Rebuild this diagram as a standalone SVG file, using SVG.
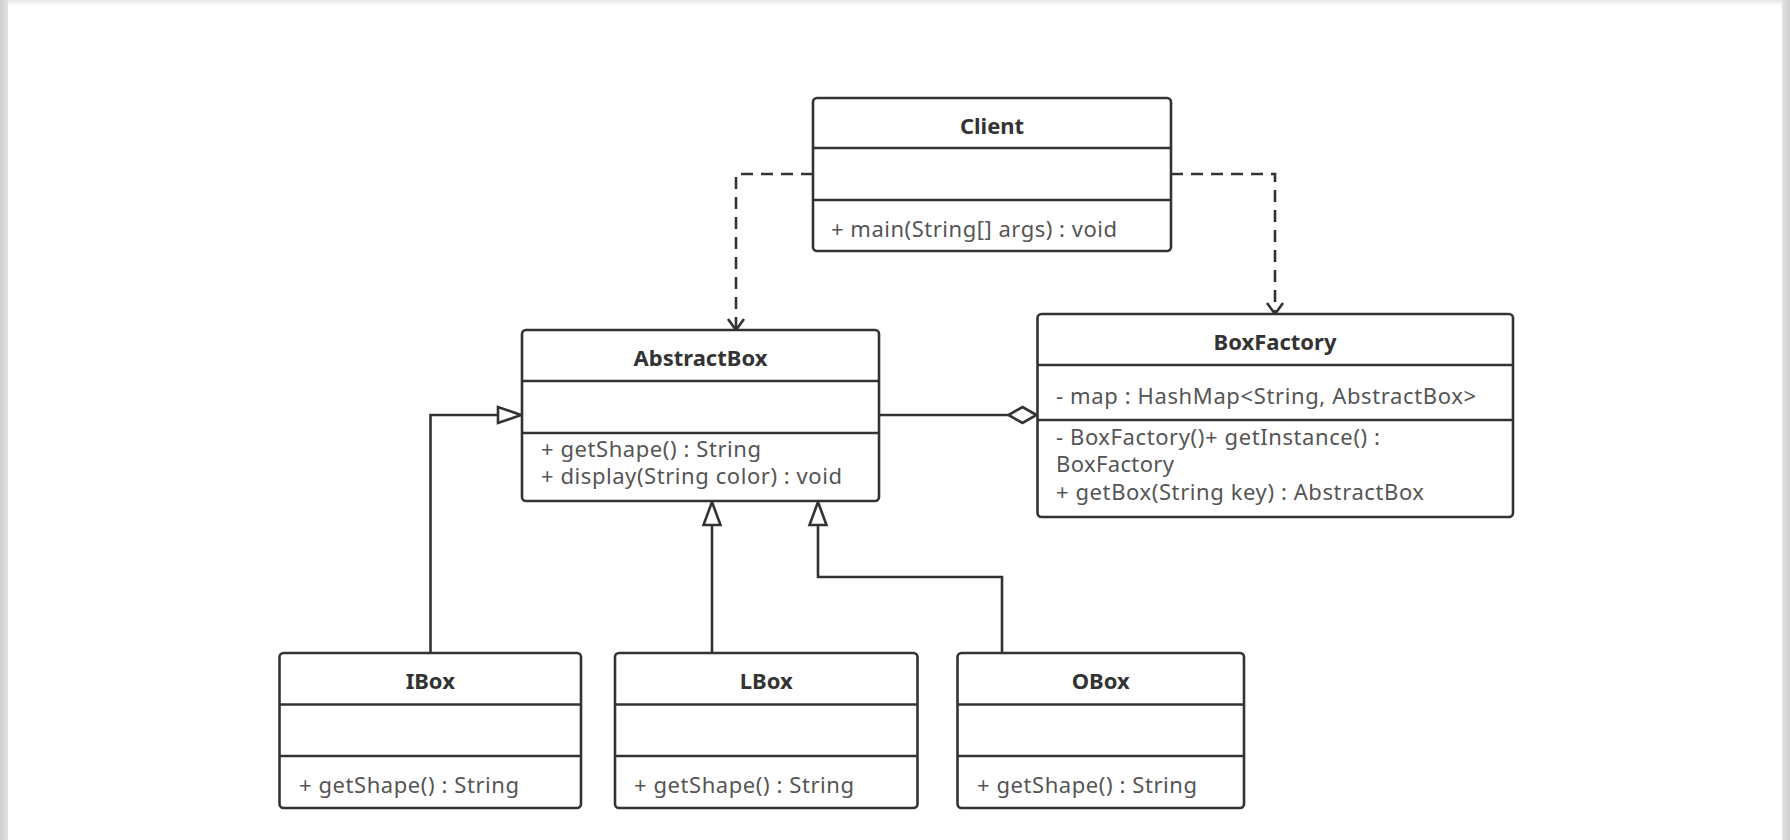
<svg xmlns="http://www.w3.org/2000/svg" width="1790" height="840" viewBox="0 0 1790 840">
<defs>
<linearGradient id="lbar" x1="0" y1="0" x2="1" y2="0"><stop offset="0" stop-color="#cfcfcf"/><stop offset="1" stop-color="#e2e2e2"/></linearGradient>
<linearGradient id="rbar" x1="1" y1="0" x2="0" y2="0"><stop offset="0" stop-color="#cfcfcf"/><stop offset="1" stop-color="#e2e2e2"/></linearGradient>
<linearGradient id="tbar" x1="0" y1="0" x2="0" y2="1"><stop offset="0" stop-color="#e6e6e6"/><stop offset="1" stop-color="#ffffff"/></linearGradient>
</defs>
<style>
.box{fill:#ffffff;stroke:#333333;stroke-width:2.6}
.sep{stroke:#333333;stroke-width:2.6}
.title{font-family:"Noto Sans","Open Sans","Liberation Sans",sans-serif;font-size:22px;font-weight:bold;fill:#333333;text-anchor:middle}
.mem{font-family:"Noto Sans","Open Sans","Liberation Sans",sans-serif;font-size:22px;fill:#555555}
.ln{fill:none;stroke:#333333;stroke-width:2.6}
.dash{fill:none;stroke:#333333;stroke-width:2.6;stroke-dasharray:12 8}
.tri{fill:#ffffff;stroke:#333333;stroke-width:2.6;stroke-linejoin:miter}
</style>
<rect x="0" y="0" width="1790" height="840" fill="#ffffff"/>
<rect x="0" y="0" width="1790" height="6" fill="url(#tbar)"/>
<rect x="0" y="0" width="8" height="840" fill="url(#lbar)"/>
<rect x="1782" y="0" width="8" height="840" fill="url(#rbar)"/>

<g id="connectors">
  <path class="dash" d="M813,174 H736 V329"/>
  <path class="ln" d="M728,319 L736,330 L744,319"/>
  <path class="dash" d="M1171,174 H1275 V313"/>
  <path class="ln" d="M1267,303 L1275,314 L1283,303"/>
  <path class="ln" d="M430.5,653 V415 H498"/>
  <polygon class="tri" points="521,415 498,407 498,423"/>
  <path class="ln" d="M712,653 V525"/>
  <polygon class="tri" points="712,502 703.5,525 720.5,525"/>
  <path class="ln" d="M1002,653 V577 H818 V525"/>
  <polygon class="tri" points="818,502 809.5,525 826.5,525"/>
  <path class="ln" d="M879,415 H1009"/>
  <polygon class="tri" points="1036.5,415 1022.5,407 1008.5,415 1022.5,423"/>
</g>

<g id="Client">
  <rect class="box" x="813" y="98" width="358" height="153" rx="4"/>
  <line class="sep" x1="813" y1="148" x2="1171" y2="148"/>
  <line class="sep" x1="813" y1="200" x2="1171" y2="200"/>
  <text class="title" x="992" y="134">Client</text>
  <text class="mem" x="831" y="237" textLength="286">+ main(String[] args) : void</text>
</g>

<g id="AbstractBox">
  <rect class="box" x="522" y="330" width="357" height="171" rx="4"/>
  <line class="sep" x1="522" y1="381" x2="879" y2="381"/>
  <line class="sep" x1="522" y1="433" x2="879" y2="433"/>
  <text class="title" x="700.5" y="366">AbstractBox</text>
  <text class="mem" x="541" y="457" textLength="220">+ getShape() : String</text>
  <text class="mem" x="541" y="484" textLength="301">+ display(String color) : void</text>
</g>

<g id="BoxFactory">
  <rect class="box" x="1037.5" y="314" width="475.5" height="203" rx="4"/>
  <line class="sep" x1="1037.5" y1="365" x2="1513" y2="365"/>
  <line class="sep" x1="1037.5" y1="420" x2="1513" y2="420"/>
  <text class="title" x="1275" y="350">BoxFactory</text>
  <text class="mem" x="1056" y="404" textLength="420">- map : HashMap&lt;String, AbstractBox&gt;</text>
  <text class="mem" x="1056" y="445" textLength="324">- BoxFactory()+ getInstance() :</text>
  <text class="mem" x="1056" y="472" textLength="118">BoxFactory</text>
  <text class="mem" x="1056" y="500" textLength="368">+ getBox(String key) : AbstractBox</text>
</g>

<g id="IBox">
  <rect class="box" x="279.5" y="653" width="301.5" height="155" rx="4"/>
  <line class="sep" x1="279.5" y1="704.5" x2="581" y2="704.5"/>
  <line class="sep" x1="279.5" y1="756" x2="581" y2="756"/>
  <text class="title" x="430.25" y="689">IBox</text>
  <text class="mem" x="299" y="793" textLength="220">+ getShape() : String</text>
</g>

<g id="LBox">
  <rect class="box" x="615" y="653" width="302.5" height="155" rx="4"/>
  <line class="sep" x1="615" y1="704.5" x2="917.5" y2="704.5"/>
  <line class="sep" x1="615" y1="756" x2="917.5" y2="756"/>
  <text class="title" x="766.25" y="689">LBox</text>
  <text class="mem" x="634" y="793" textLength="220">+ getShape() : String</text>
</g>

<g id="OBox">
  <rect class="box" x="957.5" y="653" width="286.5" height="155" rx="4"/>
  <line class="sep" x1="957.5" y1="704.5" x2="1244" y2="704.5"/>
  <line class="sep" x1="957.5" y1="756" x2="1244" y2="756"/>
  <text class="title" x="1100.75" y="689">OBox</text>
  <text class="mem" x="977" y="793" textLength="220">+ getShape() : String</text>
</g>
</svg>
